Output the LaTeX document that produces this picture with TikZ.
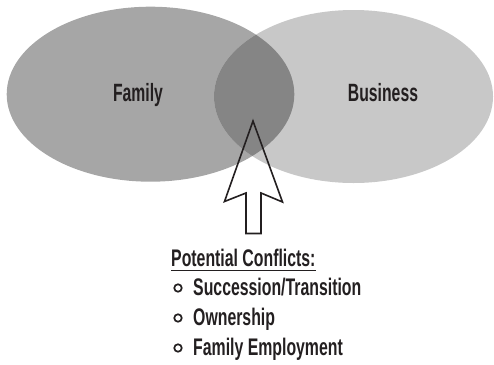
\documentclass[tikz,border=0pt]{standalone}
\usepackage{fontspec}
\newfontfamily\cf[FakeStretch=0.66]{Liberation Sans}
\newfontfamily\cfl[FakeStretch=0.63]{Liberation Sans}
\definecolor{famgray}{HTML}{A6A6A6}
\definecolor{busgray}{HTML}{C8C8C8}
\definecolor{midgray}{HTML}{858585}
\definecolor{ink}{HTML}{231F20}
\begin{document}
\begin{tikzpicture}[x=1pt,y=-1pt,
  lbl/.style={font=\cfl\bfseries\fontsize{25}{28}\selectfont, text=ink, inner sep=0pt},
  item/.style={font=\cf\bfseries\fontsize{24}{28}\selectfont, text=ink, inner sep=0pt, anchor=base west},
  bul/.style={draw=ink, line width=1.7pt, fill=white, circle, minimum size=7.5pt, inner sep=0pt}]
\useasboundingbox (0,0) rectangle (494,364);
% ellipses
\fill[famgray] (150.5,94.2) ellipse [x radius=143.8, y radius=87.5];
\fill[busgray] (353.5,96.5) ellipse [x radius=139.5, y radius=86.5];
\begin{scope}
  \clip (150.5,94.2) ellipse [x radius=143.8, y radius=87.5];
  \fill[midgray] (353.5,96.5) ellipse [x radius=139.5, y radius=86.5];
\end{scope}
% labels
\node[lbl, anchor=base] (fam) at (138,101.5) {Family};
\node[lbl, anchor=base] (bus) at (383,101) {Business};
% arrow
\draw[ink, line width=1.6pt, line join=miter]
  (253,121) -- (282.5,202) -- (261,193) -- (261,233.5) -- (246,233.5)
  -- (246,193) -- (224.5,201.5) -- cycle;
% text
\node[item] (pc) at (171,266.7) {Potential Conflicts:};
\draw[ink, line width=1.3pt] ([yshift=-3.6pt]pc.base west) -- ([yshift=-3.6pt]pc.base east);
\node[item] (i1) at (193,295.5) {Succession/Transition};
\node[item] (i2) at (193,325.3) {Ownership};
\node[item] (i3) at (193,355) {Family Employment};
\node[bul] (b1) at (178,288) {};
\node[bul] (b2) at (178,318) {};
\node[bul] (b3) at (178,348) {};
\end{tikzpicture}
\end{document}
